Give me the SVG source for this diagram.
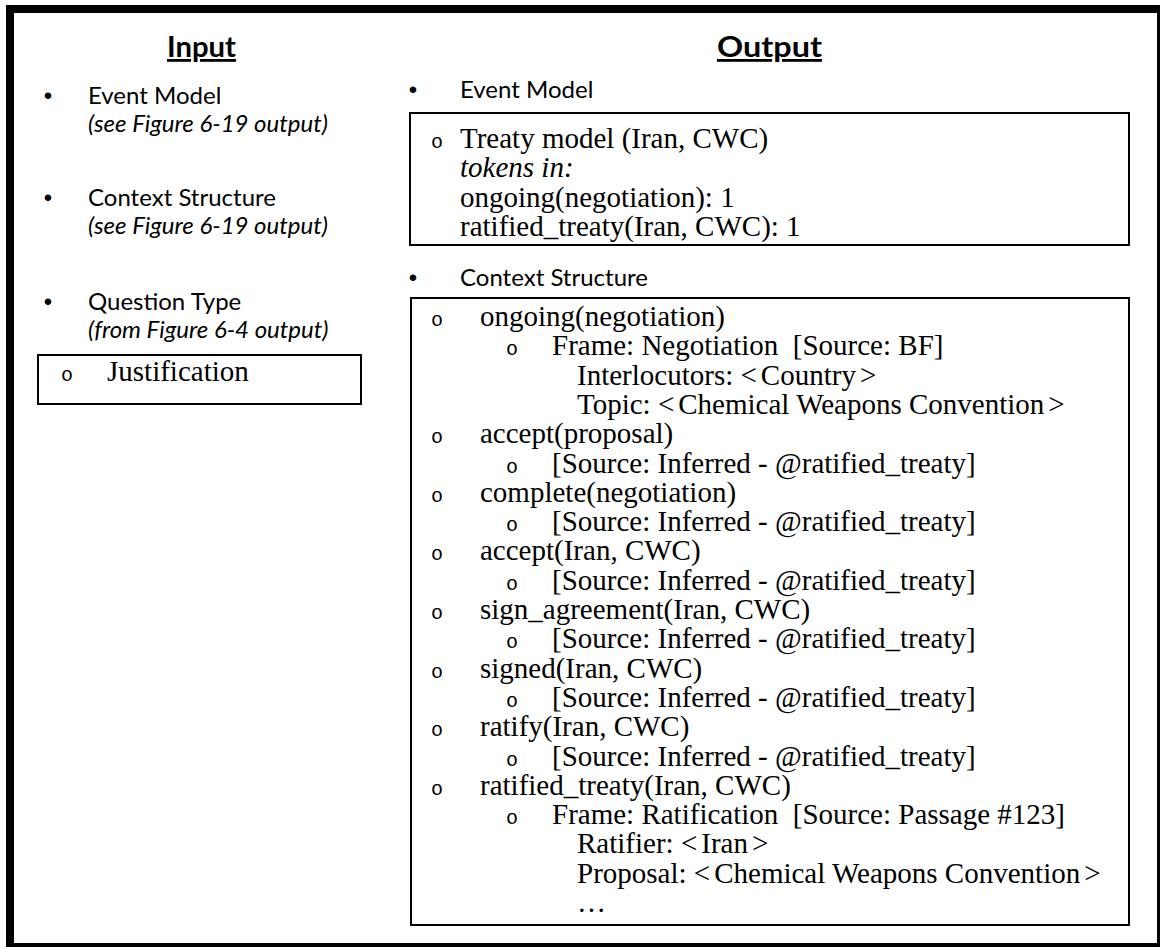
<svg xmlns="http://www.w3.org/2000/svg" width="1160" height="947" viewBox="0 0 1160 947">
<style>
.sans{font-family:Lato,"Open Sans",sans-serif;font-size:24px;fill:#000}
.it{font-style:italic}
.head{font-family:Lato,"Open Sans",sans-serif;font-size:28px;font-weight:bold;text-decoration:underline;fill:#000}
.serif{font-family:"Liberation Serif","Times New Roman",serif;font-size:29px;fill:#000}
.mono{font-family:"Liberation Mono","Courier New",monospace;font-size:20px;fill:#000}
.dot{font-family:"Liberation Sans",Arial,sans-serif;font-size:24px;fill:#000}
.box{fill:#fff;stroke:#000;stroke-width:2}
</style>
<rect x="0" y="0" width="1160" height="947" fill="#fff"/>
<g id="frame">
<rect x="6" y="5" width="1154" height="942" fill="#000"/>
<rect x="14" y="13" width="1143" height="930" fill="#fff"/>
</g>
<g id="connectors"/>
<g id="input-column">
<text class="head" x="167" y="57" textLength="69" lengthAdjust="spacingAndGlyphs">Input</text>
<text class="dot" x="48" y="104" text-anchor="middle">•</text>
<text class="sans" x="88" y="104">Event Model</text>
<text class="sans it" x="88" y="132">(see Figure 6-19 output)</text>
<text class="dot" x="48" y="206" text-anchor="middle">•</text>
<text class="sans" x="88" y="206">Context Structure</text>
<text class="sans it" x="88" y="234">(see Figure 6-19 output)</text>
<text class="dot" x="48" y="310" text-anchor="middle">•</text>
<text class="sans" x="88" y="310">Question Type</text>
<text class="sans it" x="88" y="338">(from Figure 6-4 output)</text>
</g>
<g id="question-type-box">
<rect class="box" x="38" y="355" width="323" height="49"/>
<text class="mono" x="67" y="381" text-anchor="middle">o</text>
<text class="serif" x="107" y="381">Justification</text>
</g>
<g id="output-column">
<text class="head" x="717" y="57" textLength="105" lengthAdjust="spacingAndGlyphs">Output</text>
<text class="dot" x="413" y="98" text-anchor="middle">•</text>
<text class="sans" x="460" y="98">Event Model</text>
<text class="dot" x="413" y="286" text-anchor="middle">•</text>
<text class="sans" x="460" y="286">Context Structure</text>
</g>
<g id="event-model-box">
<rect class="box" x="410" y="113" width="719" height="132"/>
<text class="mono" x="437" y="148" text-anchor="middle">o</text>
<text class="serif" x="460" y="148">Treaty model (Iran, CWC)</text>
<text class="serif it" x="460" y="177">tokens in:</text>
<text class="serif" x="460" y="207">ongoing(negotiation): 1</text>
<text class="serif" x="460" y="236">ratified_treaty(Iran, CWC): 1</text>
</g>
<g id="context-structure-box">
<rect class="box" x="411" y="298" width="718" height="627"/>
<g class="mono" text-anchor="middle">
<text x="437" y="326">o</text>
<text x="512" y="355.3">o</text>
<text x="437" y="443.2">o</text>
<text x="512" y="472.5">o</text>
<text x="437" y="501.8">o</text>
<text x="512" y="531.1">o</text>
<text x="437" y="560.4">o</text>
<text x="512" y="589.7">o</text>
<text x="437" y="619">o</text>
<text x="512" y="648.3">o</text>
<text x="437" y="677.6">o</text>
<text x="512" y="706.9">o</text>
<text x="437" y="736.2">o</text>
<text x="512" y="765.5">o</text>
<text x="437" y="794.8">o</text>
<text x="512" y="824.1">o</text>
</g>
<g class="serif">
<text x="480" y="326">ongoing(negotiation)</text>
<text x="552" y="355.3">Frame: Negotiation&#160; [Source: BF]</text>
<text x="577" y="384.6">Interlocutors: &lt;<tspan dx="4">Country</tspan><tspan dx="4">&gt;</tspan></text>
<text x="577" y="413.9">Topic: &lt;<tspan dx="4">Chemical Weapons Convention</tspan><tspan dx="4">&gt;</tspan></text>
<text x="480" y="443.2">accept(proposal)</text>
<text x="552" y="472.5">[Source: Inferred - @ratified_treaty]</text>
<text x="480" y="501.8">complete(negotiation)</text>
<text x="552" y="531.1">[Source: Inferred - @ratified_treaty]</text>
<text x="480" y="560.4">accept(Iran, CWC)</text>
<text x="552" y="589.7">[Source: Inferred - @ratified_treaty]</text>
<text x="480" y="619">sign_agreement(Iran, CWC)</text>
<text x="552" y="648.3">[Source: Inferred - @ratified_treaty]</text>
<text x="480" y="677.6">signed(Iran, CWC)</text>
<text x="552" y="706.9">[Source: Inferred - @ratified_treaty]</text>
<text x="480" y="736.2">ratify(Iran, CWC)</text>
<text x="552" y="765.5">[Source: Inferred - @ratified_treaty]</text>
<text x="480" y="794.8">ratified_treaty(Iran, CWC)</text>
<text x="552" y="824.1">Frame: Ratification&#160; [Source: Passage #123]</text>
<text x="577" y="853.4">Ratifier: &lt;<tspan dx="4">Iran</tspan><tspan dx="4">&gt;</tspan></text>
<text x="577" y="882.7">Proposal: &lt;<tspan dx="4">Chemical Weapons Convention</tspan><tspan dx="4">&gt;</tspan></text>
<text x="577" y="912">…</text>
</g>
</g>
</svg>
